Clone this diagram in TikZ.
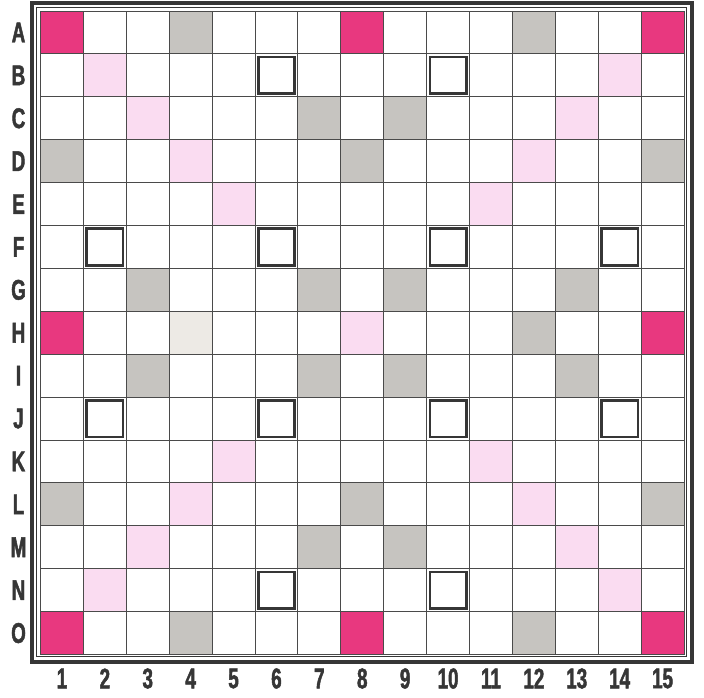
\documentclass[tikz,border=0pt]{standalone}
\usepackage{fontspec}
\newfontfamily\labfont{Liberation Sans}[FakeStretch=0.66,BoldFeatures={FakeBold=1.6}]
\definecolor{tw}{HTML}{E8387F}
\definecolor{dw}{HTML}{FADCF1}
\definecolor{dl}{HTML}{C6C4C0}
\definecolor{dlh}{HTML}{EDEAE5}
\definecolor{ink}{HTML}{363636}
\begin{document}
\begin{tikzpicture}[x=1pt,y=-1pt,
  lab/.style={font=\labfont\bfseries\fontsize{28.5}{28.5}\selectfont, text=ink, inner sep=0pt},
  gl/.style={draw=ink!90, line width=1pt},
  tlbox/.style={draw=ink, line width=2.6pt},
  outerframe/.style={draw=ink, line width=4pt},
  innerframe/.style={draw=ink, line width=1pt}]
\useasboundingbox (0,0) rectangle (704,697);
\fill[white] (0,0) rectangle (704,697);
\def\cs{42.9}
\def\ox{40.5}
\def\oy{11}
% triple word
\foreach \r/\c in {1/1,1/8,1/15,8/1,8/15,15/1,15/8,15/15}
  \fill[tw] ({\ox+(\c-1)*\cs},{\oy+(\r-1)*\cs}) rectangle ++(\cs,\cs);
% double word
\foreach \r/\c in {2/2,2/14,3/3,3/13,4/4,4/12,5/5,5/11,8/8,11/5,11/11,12/4,12/12,13/3,13/13,14/2,14/14}
  \fill[dw] ({\ox+(\c-1)*\cs},{\oy+(\r-1)*\cs}) rectangle ++(\cs,\cs);
% double letter
\foreach \r/\c in {1/4,1/12,3/7,3/9,4/1,4/8,4/15,7/3,7/7,7/9,7/13,8/12,9/3,9/7,9/9,9/13,12/1,12/8,12/15,13/7,13/9,15/4,15/12}
  \fill[dl] ({\ox+(\c-1)*\cs},{\oy+(\r-1)*\cs}) rectangle ++(\cs,\cs);
\fill[dlh] ({\ox+3*\cs},{\oy+7*\cs}) rectangle ++(\cs,\cs);
% grid
\foreach \i in {0,...,15} {
  \draw[gl] ({\ox+\i*\cs},\oy) -- ({\ox+\i*\cs},{\oy+15*\cs});
  \draw[gl] (\ox,{\oy+\i*\cs}) -- ({\ox+15*\cs},{\oy+\i*\cs});
}
% triple letter boxes
\foreach \r/\c in {2/6,2/10,6/2,6/6,6/10,6/14,10/2,10/6,10/10,10/14,14/6,14/10}
  \draw[tlbox] ({\ox+(\c-1)*\cs+3.2},{\oy+(\r-1)*\cs+3.2}) rectangle ++({\cs-6.4},{\cs-6.4});
% frame
\draw[outerframe] (31.5,3.3) rectangle (691.7,662);
\draw[innerframe] (36,7.3) rectangle (686.7,656.7);
% labels
\foreach \L [count=\i] in {A,B,C,D,E,F,G,H,I,J,K,L,M,N,O}
  \node[lab] (row\L) at (18.5,{\oy+(\i-0.5)*\cs}) {\L};
\foreach \n in {1,...,15}
  \node[lab] (col\n) at ({\ox+(\n-0.5)*\cs},678.5) {\n};
\end{tikzpicture}
\end{document}
